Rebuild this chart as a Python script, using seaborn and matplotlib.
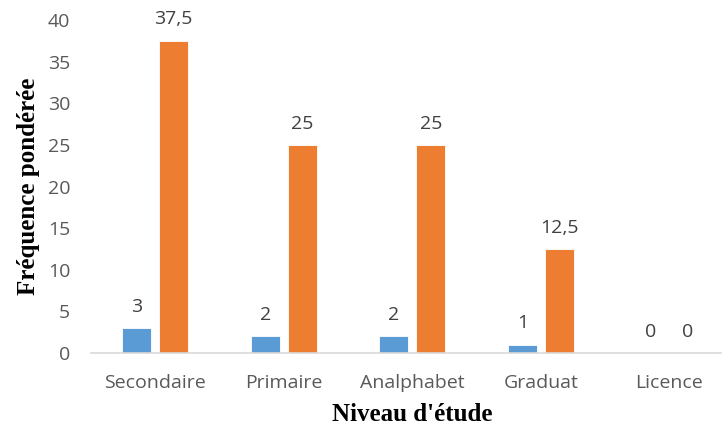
import numpy as np
import pandas as pd
import seaborn as sns
import matplotlib
matplotlib.use("Agg")
import matplotlib.pyplot as plt

# ── data ──────────────────────────────────────────────────────────────────────
niveaux = ["Secondaire", "Primaire", "Analphabet", "Graduat", "Licence"]
effectif = [3, 2, 2, 1, 0]
pourcentage = [37.5, 25, 25, 12.5, 0]
series = ["Effectif", "Pourcentage"]
yticks = [0, 5, 10, 15, 20, 25, 30, 35, 40]

df = pd.DataFrame({
    "niveau": niveaux * 2,
    "valeur": effectif + pourcentage,
    "serie": [series[0]] * len(niveaux) + [series[1]] * len(niveaux),
})

sns.set_theme(style="white")
plt.rcParams["font.family"] = ["Open Sans", "DejaVu Sans"]

fig = plt.figure(figsize=(7.22, 4.29), dpi=100)
ax = fig.add_axes([0.126, 0.177, 0.874, 0.776])

sns.barplot(data=df, x="niveau", y="valeur", hue="serie", order=niveaux,
            hue_order=series, palette=["#5B9BD5", "#ED7D31"], saturation=1,
            width=0.576, gap=0.22, edgecolor="white", linewidth=0.6,
            legend=False, ax=ax)

for cont in ax.containers:
    labels = [f"{v:g}".replace(".", ",") for v in cont.datavalues]
    ax.bar_label(cont, labels=labels, padding=9, fontsize=14,
                 color="#404040", clip_on=False)

ax.set_ylim(0, 40)
ax.set_xlim(-0.5, 4.41)
ax.set_yticks(yticks)
ax.tick_params(axis="both", labelsize=14, colors="#595959", length=0)
ax.tick_params(axis="y", pad=15)
ax.tick_params(axis="x", pad=15)

for s in ["top", "right", "left"]:
    ax.spines[s].set_visible(False)
ax.spines["bottom"].set_color("#d9d9d9")
ax.spines["bottom"].set_linewidth(1.2)

ax.set_xlabel("Niveau d'étude", family="Liberation Serif", fontweight="bold",
              fontsize=18, color="black")
ax.set_ylabel("Fréquence pondérée", family="Liberation Serif", fontweight="bold",
              fontsize=18, color="black")
ax.xaxis.set_label_coords(0.509, -0.15)
ax.yaxis.set_label_coords(-0.08, 0.5)

plt.savefig("out.png", dpi=100)
plt.close()
